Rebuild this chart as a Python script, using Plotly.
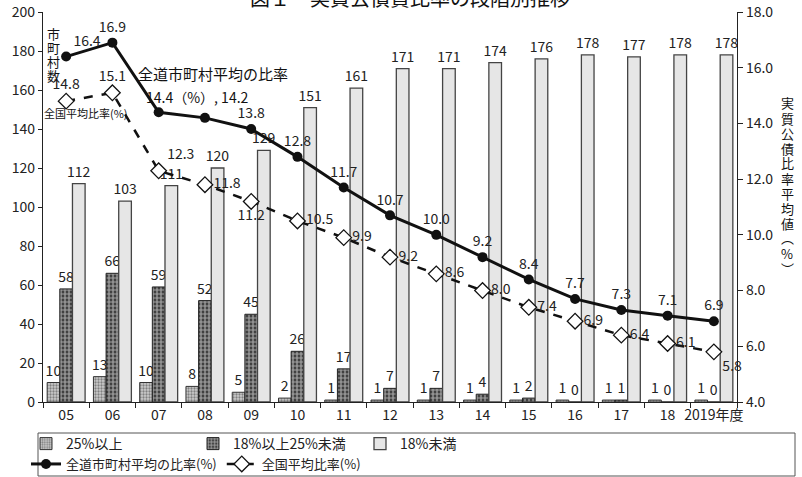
import plotly.graph_objects as go

years = ["05", "06", "07", "08", "09", "10", "11", "12", "13", "14", "15", "16", "17", "18", "2019年度"]
over25 = [10, 13, 10, 8, 5, 2, 1, 1, 1, 1, 1, 1, 1, 1, 1]
mid18_25 = [58, 66, 59, 52, 45, 26, 17, 7, 7, 4, 2, 0, 1, 0, 0]
under18 = [112, 103, 111, 120, 129, 151, 161, 171, 171, 174, 176, 178, 177, 178, 178]
dou_avg = [16.4, 16.9, 14.4, 14.2, 13.8, 12.8, 11.7, 10.7, 10.0, 9.2, 8.4, 7.7, 7.3, 7.1, 6.9]
nat_avg = [14.8, 15.1, 12.3, 11.8, 11.2, 10.5, 9.9, 9.2, 8.6, 8.0, 7.4, 6.9, 6.4, 6.1, 5.8]

FONT = "Noto Sans CJK JP"
L, R, T, B = 43, 65, 12, 75
W, H = 802, 477
PW, PH = W - L - R, H - T - B

def px(x):
    return (x - L) / PW

def py(y):
    return (H - B - y) / PH

def cx(x):
    return x / W

def cy(y):
    return 1 - y / H

fig = go.Figure()

bar_common = dict(textposition="outside", constraintext="none", cliponaxis=False,
                  textfont=dict(size=14, color="#222"), legend="legend")
fig.add_bar(x=years, y=over25, name="25%以上", text=over25,
            marker=dict(color="#999", line=dict(color="#333", width=1),
                        pattern=dict(shape=".", fgcolor="#333", bgcolor="#ccc", size=3, solidity=0.45)),
            **bar_common)
fig.add_bar(x=years, y=mid18_25, name="18%以上25%未満", text=mid18_25,
            marker=dict(color="#222", line=dict(color="#222", width=1),
                        pattern=dict(shape=".", fgcolor="white", bgcolor="#222", size=4, solidity=0.7)),
            **bar_common)
fig.add_bar(x=years, y=under18, name="18%未満", text=under18,
            marker=dict(color="#e6e6e6", line=dict(color="#444", width=1.3)),
            **bar_common)

dou_text = [f"{v:.1f}" for v in dou_avg]
dou_text[2] = ""
dou_text[3] = ""
dou_pos = ["top right"] + ["top center"] * 14
fig.add_scatter(x=years, y=dou_avg, yaxis="y2", mode="lines+markers+text", name="全道市町村平均の比率(%)",
                line=dict(color="#111", width=3), marker=dict(symbol="circle", size=10, color="#111"),
                text=dou_text, textposition=dou_pos, textfont=dict(size=14, color="#222"),
                cliponaxis=False, legend="legend2")

nat_text = [f"{v:.1f}" for v in nat_avg]
nat_pos = ["top center", "top center", "top right", "middle right", "bottom center",
           "middle right", "middle right", "middle right", "middle right", "middle right",
           "middle right", "middle right", "middle right", "middle right", "bottom right"]
fig.add_scatter(x=years, y=nat_avg, yaxis="y2", mode="lines+markers+text", name="全国平均比率(%)",
                line=dict(color="#111", width=2.5, dash="dash"),
                marker=dict(symbol="diamond", size=12, color="white", line=dict(color="#111", width=1.3)),
                text=nat_text, textposition=nat_pos, textfont=dict(size=14, color="#222"),
                cliponaxis=False, legend="legend2")

def ann(text, x, y, size, **kw):
    return dict(text=text, x=px(x), y=py(y), xref="paper", yref="paper", showarrow=False,
                xanchor="center", yanchor="middle", font=dict(size=size, color="#111"), **kw)

annotations = [
    ann("図１　実質公債費比率の段階別推移", 410, -2, 20),
    ann("全道市町村平均の比率", 213, 73, 15),
    ann(f"{dou_avg[2]}（%）, {dou_avg[3]}", 197, 97, 14),
    ann("全国平均比率(%)", 86, 113, 11),
]
for i, ch in enumerate("市町村数"):
    annotations.append(ann(ch, 53, 33 + 14 * i, 13))
for i, ch in enumerate("実質公債比率平均値︵%︶"):
    annotations.append(ann(ch, 787, 103 + 15 * i, 13))

shapes = [dict(type="rect", xref="paper", yref="paper", x0=px(38), x1=px(795), y0=py(433), y1=py(476),
               line=dict(color="#555", width=1))]

fig.update_layout(
    width=W, height=H, margin=dict(l=L, r=R, t=T, b=B),
    paper_bgcolor="white", plot_bgcolor="white",
    font=dict(family=FONT, size=13, color="#222"),
    barmode="group", bargap=0.18, bargroupgap=0,
    xaxis=dict(type="category", range=[-0.5, len(years) - 0.5], showline=True, linecolor="#222",
               linewidth=1.2, ticks="outside", tickson="boundaries", ticklen=5, tickcolor="#222",
               tickfont=dict(size=14), tickangle=0, automargin=False),
    yaxis=dict(range=[0, 200], dtick=20, showline=True, linecolor="#222", linewidth=1.2, showgrid=False,
               ticks="outside", ticklen=4, tickcolor="#222", zeroline=False, tickfont=dict(size=14),
               automargin=False),
    yaxis2=dict(range=[4, 18], dtick=2, tickformat=".1f", overlaying="y", side="right", showline=True,
                linecolor="#222", linewidth=1.2, showgrid=False, ticks="outside", ticklen=5,
                tickcolor="#222", zeroline=False, tickfont=dict(size=14), automargin=False),
    legend=dict(orientation="h", x=cx(26), y=cy(428), xref="container", yref="container",
                xanchor="left", yanchor="top",
                entrywidth=122, font=dict(size=14), bgcolor="rgba(0,0,0,0)", traceorder="normal"),
    legend2=dict(orientation="h", x=cx(26), y=cy(449), xref="container", yref="container",
                 xanchor="left", yanchor="top",
                 font=dict(size=13), bgcolor="rgba(0,0,0,0)", traceorder="normal"),
    annotations=annotations, shapes=shapes, showlegend=True,
)

fig.write_html("out.html")
